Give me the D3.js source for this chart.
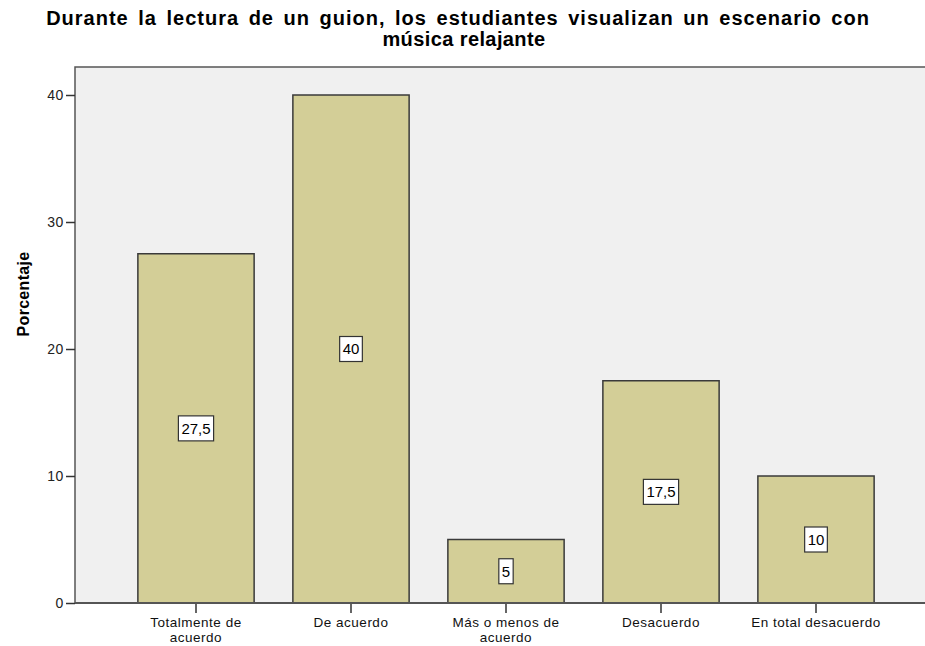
<!DOCTYPE html>
<html><head><meta charset="utf-8">
<script src="https://cdn.jsdelivr.net/npm/d3@7"></script>
<style>body{margin:0;background:#fff}svg{display:block;font-family:"Liberation Sans",Arial,sans-serif}</style>
</head><body><svg id="c" width="925" height="646"></svg>
<script>
const categories = ["Totalmente de\nacuerdo","De acuerdo","Más o menos de\nacuerdo","Desacuerdo","En total desacuerdo"];
const values = [27.5, 40, 5, 17.5, 10];
const valueLabels = ["27,5","40","5","17,5","10"];
const yTicks = [0,10,20,30,40];
const title = ["Durante la lectura de un guion, los estudiantes visualizan un escenario con","música relajante"];
const yTitle = "Porcentaje";

const svg = d3.select("#c");
const plot = {left:75, top:67, right:930, bottom:603};
svg.append("rect").attr("x",plot.left).attr("y",plot.top).attr("width",plot.right-plot.left).attr("height",plot.bottom-plot.top)
  .attr("fill","#f0f0f0").attr("stroke","#555").attr("stroke-width",1.5);

const x = d3.scaleBand().domain(categories).range([118.5,893.5]).paddingInner(0.25).paddingOuter(0.125);
const y = d3.scaleLinear().domain([0,40]).range([603,95]);

svg.selectAll("rect.bar").data(values).enter().append("rect").attr("class","bar")
  .attr("x",(d,i)=>x(categories[i])).attr("width",x.bandwidth())
  .attr("y",d=>y(d)).attr("height",d=>y(0)-y(d))
  .attr("fill","#d3ce97").attr("stroke","#3a3a3a").attr("stroke-width",1.5);

// value labels
const lg = svg.selectAll("g.vl").data(values).enter().append("g").attr("class","vl")
  .attr("transform",(d,i)=>`translate(${x(categories[i])+x.bandwidth()/2},${y(d/2)})`);
lg.each(function(d,i){
  const g=d3.select(this);
  const t=g.append("text").attr("text-anchor","middle").attr("dy","0.35em").attr("font-size",15).attr("fill","#000").text(valueLabels[i]);
  const w=t.node().getComputedTextLength();
  g.insert("rect","text").attr("x",-w/2-3).attr("y",-12.5).attr("width",w+6).attr("height",25)
   .attr("fill","#fff").attr("stroke","#333").attr("stroke-width",1.2);
});

// axes
const ya = d3.axisLeft(y).tickValues(yTicks).tickSize(9).tickPadding(2);
const yg = svg.append("g").attr("transform",`translate(${plot.left},0)`).call(ya);
yg.select(".domain").remove();
yg.selectAll("line").attr("stroke","#333").attr("stroke-width",1.5);
yg.selectAll("text").attr("font-size",14).attr("letter-spacing",0.6).attr("fill","#222").attr("font-family","Liberation Sans, Arial, sans-serif");

const xa = d3.axisBottom(x).tickSize(10).tickFormat("");
const xg = svg.append("g").attr("transform",`translate(0,${plot.bottom})`).call(xa);
xg.select(".domain").remove();
xg.selectAll("line").attr("stroke","#333").attr("stroke-width",1.5);
svg.append("line").attr("x1",plot.left).attr("x2",925).attr("y1",plot.bottom).attr("y2",plot.bottom).attr("stroke","#555").attr("stroke-width",2);

categories.forEach(c=>{
  const cx = x(c)+x.bandwidth()/2;
  const t=svg.append("text").attr("x",cx).attr("y",627).attr("text-anchor","middle").attr("font-size",13.5).attr("letter-spacing",0.5).attr("fill","#111");
  c.split("\n").forEach((s,j)=>t.append("tspan").attr("x",cx).attr("dy",j?14.5:0).text(s));
});

// titles
svg.append("text").attr("x",458).attr("y",25).attr("text-anchor","middle")
  .attr("font-size",20).attr("font-weight","bold").attr("fill","#000").attr("letter-spacing",1).attr("word-spacing",3).text(title[0]);
svg.append("text").attr("x",464).attr("y",46).attr("text-anchor","middle")
  .attr("font-size",20).attr("font-weight","bold").attr("fill","#000").attr("letter-spacing",0.4).text(title[1]);
svg.append("text").attr("transform","translate(29,294) rotate(-90)").attr("text-anchor","middle")
  .attr("font-size",16).attr("font-weight","bold").attr("letter-spacing",0.3).attr("fill","#000").text(yTitle);
</script></body></html>
